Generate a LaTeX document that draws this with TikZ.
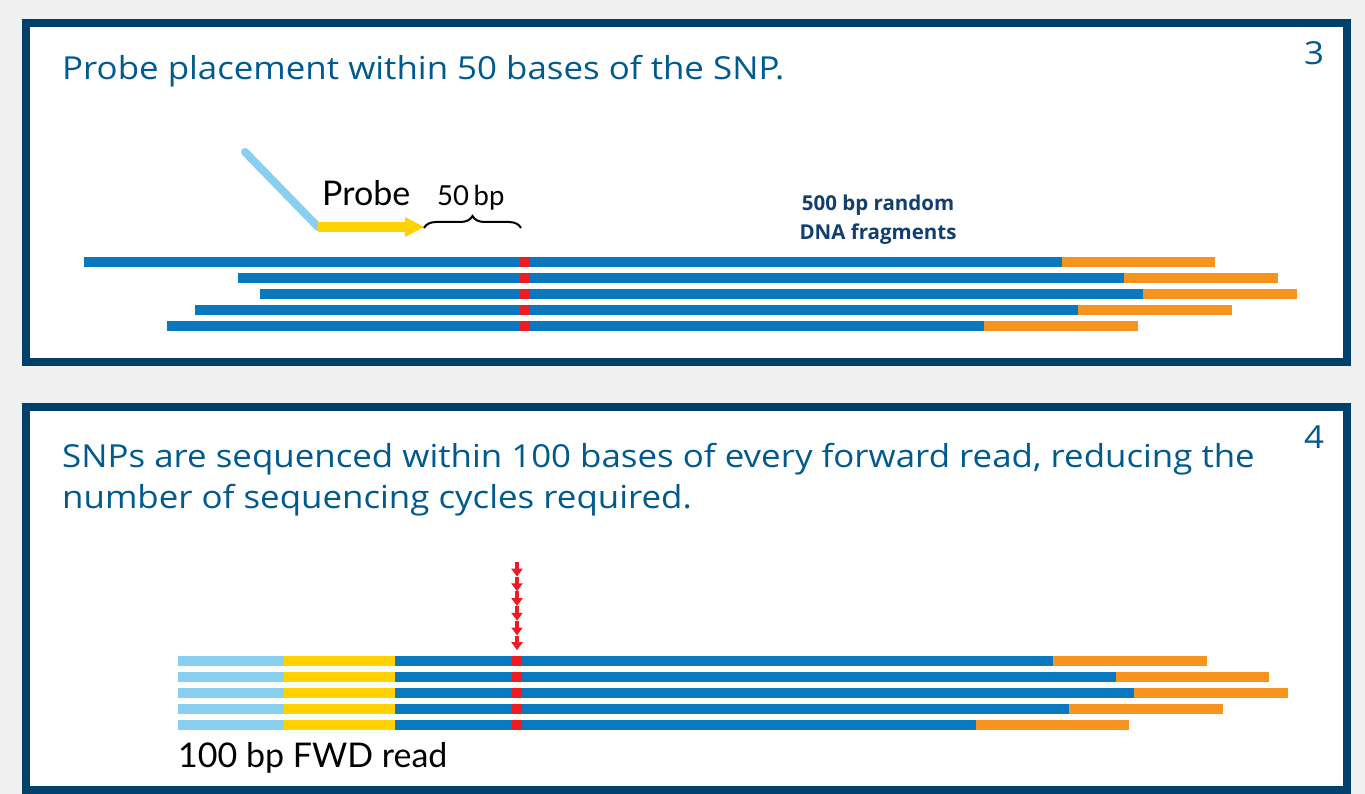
\documentclass[tikz,border=0pt]{standalone}
\usepackage{fontspec}
\setmainfont{Open Sans}
\newfontfamily\ttlfont[FakeStretch=1.1]{Open Sans}
\newfontfamily\probefont{Lato}
\usetikzlibrary{decorations.pathreplacing,arrows.meta}
\definecolor{frame}{HTML}{00406A}
\definecolor{ttl}{HTML}{005A8E}
\definecolor{navy}{HTML}{123F6E}
\definecolor{dblue}{HTML}{0A78BE}
\definecolor{dorange}{HTML}{F7941D}
\definecolor{dred}{HTML}{ED1C24}
\definecolor{yel}{HTML}{FFD200}
\definecolor{lblue}{HTML}{89CFF0}
\definecolor{bg}{HTML}{F0F0F0}
\tikzset{
  panel/.style={draw=frame, line width=8pt, fill=white},
  title/.style={text=ttl, font=\ttlfont\fontsize{31.7}{41}\selectfont, inner sep=0pt, anchor=base west},
  lbl/.style={font=\probefont\fontsize{34}{40}\selectfont, inner sep=0pt, anchor=base west},
  bold/.style={text=navy, font=\bfseries\fontsize{20.5}{24}\selectfont, inner sep=0pt, anchor=base},
  snparrow/.style={dred, line width=3.8pt, -{Triangle[width=11pt,length=8pt]}}
}
\begin{document}
\begin{tikzpicture}[x=1pt,y=-1pt]
\fill[bg] (0,0) rectangle (1365,794);
\useasboundingbox (0,0) rectangle (1365,794);
% panels
\draw[panel] (26,23) rectangle (1347,362);
\draw[panel] (26,407) rectangle (1347,790);
% titles
\node[title] (t1) at (62,80) {Probe placement within 50 bases of the SNP.};
\node[title] (n3) at (1304,65) {3};
\node[title] (t2a) at (62,467) {SNPs are sequenced within 100 bases of every forward read, reducing the};
\node[title] (t2b) at (62,508) {number of sequencing cycles required.};
\node[title] (n4) at (1304,448) {4};
% top bars
\foreach \y/\l/\r/\e in {257/84/1062/1215, 273/238/1124/1278, 289/260/1143/1297, 305/195/1078/1232, 321/167/984/1138} {
  \fill[dblue] (\l,\y) rectangle (\r,\y+10);
  \fill[dorange] (\r,\y) rectangle (\e,\y+10);
  \fill[dred] (520,\y) rectangle (530,\y+10);
}
% probe
\coordinate (ptop) at (245,152);
\coordinate (pjoint) at (318,227);
\coordinate (ptip) at (424,227);
\draw[lblue, line width=8pt, line cap=round] (ptop) -- (pjoint);
\fill[yel] (318,222) rectangle (406,232);
\fill[yel] (405,217) -- (ptip) -- (405,237) -- cycle;
\node[lbl] (probe) at (322,206) {Probe};
\node[lbl, font=\probefont\fontsize{27.5}{30}\selectfont] (fifty) at (437,206) {50\,bp};
\coordinate (bl) at (424,228);
\coordinate (br) at (521,228);
\draw[decorate, decoration={brace, amplitude=12pt}, line width=2pt] (bl) -- (br);
\node[bold] (frag1) at (878,211) {500 bp random};
\node[bold] (frag2) at (878,240) {DNA fragments};
% bottom bars
\foreach \y/\r/\e in {656/1053/1207, 672/1116/1269, 688/1134/1288, 704/1069/1223, 720/976/1129} {
  \fill[lblue] (178,\y) rectangle (284,\y+9.5);
  \fill[yel] (284,\y) rectangle (395,\y+9.5);
  \fill[dblue] (395,\y) rectangle (\r,\y+9.5);
  \fill[dorange] (\r,\y) rectangle (\e,\y+9.5);
  \fill[dred] (512,\y) rectangle (522,\y+9.5);
}
\foreach \i in {0,...,5} {
  \draw[snparrow] (517,{562+14.7*\i}) -- (517,{562+14.7*(\i+1)});
}
\node[lbl] (fwd) at (178,767) {100 bp FWD read};
\end{tikzpicture}
\end{document}
